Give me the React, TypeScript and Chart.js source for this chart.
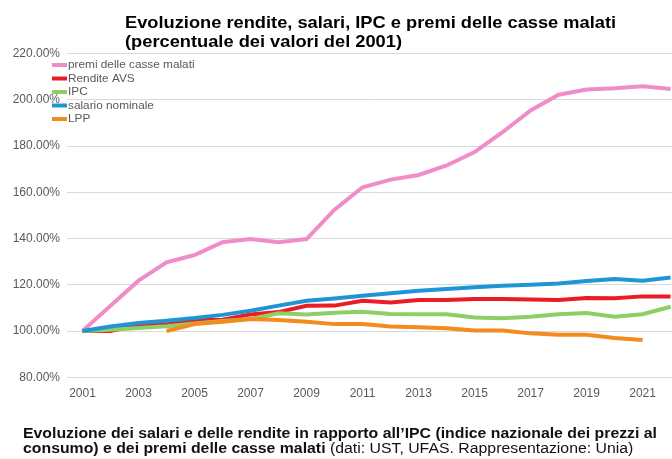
import React, { useEffect, useRef } from "react";
import { Chart, registerables } from "chart.js";

Chart.register(...registerables);

const years = [2001, 2002, 2003, 2004, 2005, 2006, 2007, 2008, 2009, 2010, 2011, 2012, 2013, 2014, 2015, 2016, 2017, 2018, 2019, 2020, 2021, 2022];
const tickYears = [2001, 2003, 2005, 2007, 2009, 2011, 2013, 2015, 2017, 2019, 2021];

const premi = [100, 110.9, 121.8, 129.7, 132.9, 138.4, 139.8, 138.4, 139.8, 152.5, 162.2, 165.5, 167.5, 171.6, 177.4, 186, 195.4, 202.2, 204.5, 205, 205.9, 204.7];
const avs = [100, 100, 102.6, 102.8, 104.7, 104.9, 107.2, 108.2, 110.9, 111, 113.1, 112.4, 113.4, 113.4, 113.9, 113.9, 113.6, 113.4, 114.3, 114.2, 115, 115];
const ipc = [100, 100.6, 101.3, 102.1, 103.3, 104.4, 105.2, 107.7, 107.2, 107.9, 108.3, 107.4, 107.3, 107.3, 105.9, 105.5, 106.2, 107.3, 107.8, 106.2, 107.3, 110.5];
const salario = [100, 102, 103.5, 104.5, 105.6, 107, 108.8, 111, 113.1, 114.1, 115.3, 116.4, 117.4, 118.2, 118.9, 119.6, 120, 120.6, 121.6, 122.5, 121.8, 123.2];
const lpp = [null, null, null, 100, 103, 104, 105.2, 104.8, 104, 103, 103, 102, 101.6, 101.2, 100.2, 100.2, 99, 98.4, 98.4, 97, 96.1, null];

const seriesNames = ["premi delle casse malati", "Rendite AVS", "IPC", "salario nominale", "LPP"];
const seriesColors = ["#f08cc8", "#ec1c24", "#8dcf66", "#1f95d6", "#f58a1f"];
const seriesValues = [premi, avs, ipc, salario, lpp];

const titleLines = ["Evoluzione rendite, salari, IPC e premi delle casse malati", "(percentuale dei valori del 2001)"];
const captionLine1 = "Evoluzione dei salari e delle rendite in rapporto all\u2019IPC (indice nazionale dei prezzi al";
const captionLine2Bold = "consumo) e dei premi delle casse malati";
const captionLine2Normal = " (dati: UST, UFAS. Rappresentazione: Unia)";

const FAMILY = '"Liberation Sans", Arial, sans-serif';

const textPlugin = {
  id: "texts",
  afterDraw(chart: any) {
    const ctx = chart.ctx as CanvasRenderingContext2D;
    ctx.save();
    ctx.textBaseline = "alphabetic";
    ctx.textAlign = "left";
    // title
    ctx.fillStyle = "#000";
    ctx.font = `bold 17px ${FAMILY}`;
    const tScale = 277 / ctx.measureText(titleLines[1]).width;
    titleLines.forEach((t, i) => {
      ctx.save();
      ctx.translate(125, 28 + i * 19);
      ctx.scale(tScale, 1);
      ctx.fillText(t, 0, 0);
      ctx.restore();
    });
    // caption
    ctx.fillStyle = "#111";
    const cBold = `bold 14px ${FAMILY}`;
    const cNorm = `14px ${FAMILY}`;
    ctx.font = cBold;
    const cScale = 634 / ctx.measureText(captionLine1).width;
    ctx.save();
    ctx.translate(23, 438);
    ctx.scale(cScale, 1);
    ctx.fillText(captionLine1, 0, 0);
    ctx.restore();
    ctx.save();
    ctx.translate(23, 453);
    ctx.scale(cScale, 1);
    ctx.font = cBold;
    ctx.fillText(captionLine2Bold, 0, 0);
    const bw = ctx.measureText(captionLine2Bold).width;
    ctx.font = cNorm;
    ctx.fillText(captionLine2Normal, bw, 0);
    ctx.restore();
    // legend
    ctx.font = `11.8px ${FAMILY}`;
    ctx.textBaseline = "middle";
    const rows = [65, 78.5, 92, 105.5, 119];
    seriesNames.forEach((name, i) => {
      ctx.fillStyle = seriesColors[i];
      ctx.fillRect(52, rows[i] - 2, 15, 4);
      ctx.fillStyle = "#595959";
      ctx.fillText(name, 68, rows[i]);
    });
    ctx.restore();
  },
};

export default function App() {
  const ref = useRef<HTMLCanvasElement | null>(null);
  useEffect(() => {
    if (!ref.current) return;
    const datasets = seriesNames.map((name, i) => ({
      label: name,
      data: years
        .map((y, j) => ({ x: y, y: seriesValues[i][j] }))
        .filter((p) => p.y !== null),
      borderColor: seriesColors[i],
      backgroundColor: seriesColors[i],
      borderWidth: 4,
      pointRadius: 0,
      tension: 0,
      fill: false,
      order: 5 - i,
    }));
    const chart = new Chart(ref.current, {
      type: "line",
      data: { datasets },
      options: {
        animation: false,
        responsive: false,
        devicePixelRatio: 1,
        layout: { padding: { top: 53.6, left: 0, right: 0, bottom: 0 } },
        plugins: { legend: { display: false }, tooltip: { enabled: false }, title: { display: false } },
        scales: {
          x: {
            type: "linear",
            min: 2000.446,
            max: 2022.05,
            grid: { display: false },
            border: { display: false },
            ticks: {
              color: "#595959",
              font: { size: 12, family: FAMILY },
              padding: 1,
              autoSkip: false,
              maxRotation: 0,
              callback: (v: any) => String(v),
            },
            afterBuildTicks: (s: any) => {
              s.ticks = tickYears.map((v) => ({ value: v }));
            },
            afterFit: (s: any) => {
              s.height = 459 - 377.3;
            },
          },
          y: {
            min: 80,
            max: 220,
            ticks: {
              stepSize: 20,
              color: "#595959",
              font: { size: 12, family: FAMILY },
              padding: 7,
              callback: (v: any) => Number(v).toFixed(2) + "%",
            },
            grid: { color: "#d9d9d9", drawTicks: false, lineWidth: 1 },
            border: { display: false },
            afterFit: (s: any) => {
              s.width = 67;
            },
          },
        },
      } as any,
      plugins: [textPlugin],
    });
    return () => chart.destroy();
  }, []);
  return (
    <div style={{ position: "absolute", left: 0, top: 0, width: 672, height: 459, background: "#fff" }}>
      <canvas ref={ref} width={672} height={459} style={{ width: 672, height: 459, display: "block" }} />
    </div>
  );
}
